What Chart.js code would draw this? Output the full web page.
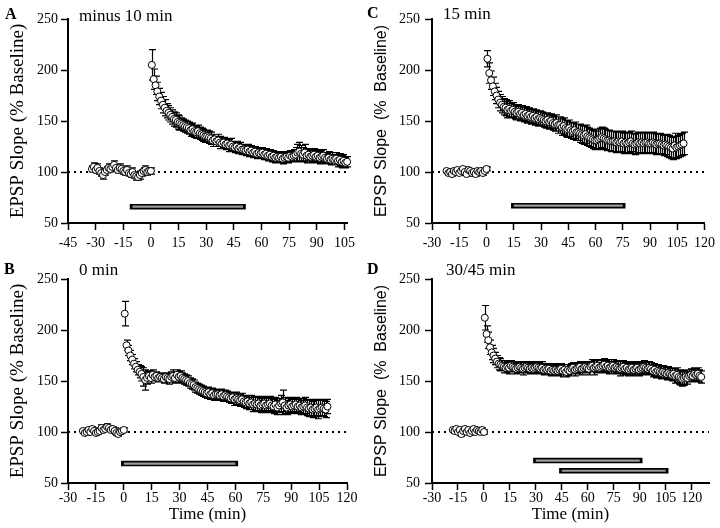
<!DOCTYPE html>
<html>
<head>
<meta charset="utf-8">
<script src="https://cdn.jsdelivr.net/npm/chart.js@4.4.1/dist/chart.umd.min.js"></script>
<style>
  body { margin: 0; background: #fff; }
  #wrap { position: relative; width: 720px; height: 528px; overflow: hidden; }
  canvas { position: absolute; }
  .lbl { position: absolute; font-family: "Liberation Serif", serif; font-size: 17px; line-height: 1; white-space: pre; color: #000; }
  .let { font-weight: bold; font-size: 16px; }
</style>
</head>
<body>
<div id="wrap">
  <canvas id="chartA" width="360" height="264" style="left:0;top:0"></canvas>
  <canvas id="chartC" width="360" height="264" style="left:360px;top:0"></canvas>
  <canvas id="chartB" width="360" height="264" style="left:0;top:264px"></canvas>
  <canvas id="chartD" width="360" height="264" style="left:360px;top:264px"></canvas>

  <div class="lbl let" style="left:5px;top:6px">A</div>
  <div class="lbl" style="left:79px;top:7px">minus 10 min</div>
  <div class="lbl let" style="left:367px;top:5px">C</div>
  <div class="lbl" style="left:443px;top:5px">15 min</div>
  <div class="lbl let" style="left:4px;top:261px">B</div>
  <div class="lbl" style="left:79px;top:261px">0 min</div>
  <div class="lbl let" style="left:367px;top:261px">D</div>
  <div class="lbl" style="left:446px;top:261px">30/45 min</div>
</div>

<script>
// y ticks shared by all panels
var yTicks = [50, 100, 150, 200, 250];

// ---- A: minus 10 min ----
var aTicks = [-45, -30, -15, 0, 15, 30, 45, 60, 75, 90, 105];
var aBaseStart = -32;   // one sample per minute
var aBase = [103,105,102,104,101,99,97,100,102,104, 103,105,107,104,102,104,103,101,100,102,
             99,98,100,97,96,95,97,99,101,102, 100,101,101];
var aBaseErr = [3,4,3,4,3,3,4,3,3,4, 3,3,4,3,3,4,3,3,3,4, 3,3,4,3,4,3,4,3,3,4, 3,3,3];
var aPostStart = 0.5;
var aPost = [205,191,185,179,174,170,166,163,160,158,
             156,154,152,151,149,148,147,146,145,144,
             143,141,142,140,139,140,138,137,136,135,
             135,134,133,131,132,130,131,129,128,129,
             127,128,126,127,125,124,125,123,124,122,
             122,121,122,120,121,119,120,118,119,118,
             119,117,118,116,117,115,116,114,115,114,
             115,113,114,115,114,116,115,116,117,119,
             120,118,117,119,116,117,115,116,117,115,
             116,114,115,116,114,113,114,112,113,112,
             113,111,112,110,111,109,110];
var aPostErr = [15,10,9,9,8,8,8,8,7,7, 7,7,7,7,7,7,6,6,6,6, 6,6,6,6,6,6,6,6,6,6,
                6,6,6,6,5,5,6,6,5,5, 5,5,6,6,5,5,5,5,5,5, 5,5,5,5,5,5,5,5,5,5,
                5,5,5,5,5,5,5,5,5,5, 5,5,5,5,5,5,5,6,7,8, 9,8,7,8,7,6,6,6,6,6,
                6,6,6,6,5,5,6,5,6,5, 6,6,6,6,6,5,5];
var aDrug = [[-10, 50, 66]];

// ---- B: 0 min ----
var bTicks = [-30, -15, 0, 15, 30, 45, 60, 75, 90, 105, 120];
var bBaseStart = -22;
var bBase = [101,99,100,102,100,103,101,99,100,101, 104,102,103,105,104,102,103,101,99,98, 100,101,102];
var bBaseErr = [2,2,3,2,2,2,3,2,2,2, 3,2,2,3,2,2,2,3,2,2, 2,2,2];
var bPostStart = 0.5;
var bPost = [216,185,180,175,171,167,164,161,159,157,
             154,151,153,155,153,156,154,155,153,154,
             153,152,154,153,152,154,155,153,156,154,
             155,153,152,151,150,148,147,146,144,143,
             142,141,140,139,138,139,137,138,136,137,
             137,136,137,135,136,135,134,133,134,132,
             133,132,131,132,130,129,130,128,129,127,
             128,127,128,126,127,128,126,127,128,126,
             125,127,124,126,128,129,126,124,126,127,
             125,126,127,125,126,124,125,126,124,123,
             124,122,123,124,122,123,124,123,122,125];
var bPostErr = [12,5,5,5,5,5,5,5,6,7, 9,10,6,5,5,5,4,4,4,4, 4,4,4,4,5,5,6,5,5,5,
                5,5,5,5,5,5,5,5,5,5, 5,5,5,5,5,5,5,5,5,5, 5,5,5,5,5,5,5,5,5,6,
                6,6,6,6,6,6,6,6,7,7, 7,7,7,7,7,7,7,7,7,7, 7,7,7,7,8,12,8,7,7,7,
                7,7,7,7,7,7,8,8,8,8, 8,8,8,8,9,8,8,8,8,7];
var bDrug = [[0, 60, 69]];

// ---- C: 15 min ----
var cTicks = [-30, -15, 0, 15, 30, 45, 60, 75, 90, 105, 120];
var cBaseStart = -22;
var cBase = [101,99,100,98,101,100,102,99,101,103, 100,98,102,101,99,100,98,101,100,101, 99,101,103];
var cBaseErr = [2,2,2,2,2,2,2,2,2,2, 2,2,2,2,2,2,2,2,2,2, 2,2,2];
var cPostStart = 0.5;
var cPost = [211,197,190,184,179,175,171,168,166,164,
             163,161,162,160,161,159,158,159,157,158,
             156,157,155,156,154,155,153,154,152,153,
             152,151,150,151,149,150,148,147,148,146,
             146,144,145,143,142,143,141,140,141,139,
             139,138,137,136,137,135,134,133,132,131,
             131,132,133,134,133,132,131,131,130,130,
             130,129,130,129,130,128,129,128,129,130,
             128,127,128,129,128,129,128,129,129,128,
             128,129,128,127,128,128,127,126,127,126,
             125,124,123,126,124,125,126,127,128];
var cPostErr = [8,10,9,9,8,8,8,8,8,8, 8,8,8,7,7,7,7,7,7,7, 7,7,7,7,7,7,7,7,7,7,
                7,7,7,7,7,7,7,7,8,8, 8,8,8,8,8,8,8,8,8,8, 8,9,9,9,9,9,9,9,9,9,
                9,10,10,10,10,10,10,10,10,10, 10,10,10,10,10,10,10,10,10,10,
                10,10,10,10,10,10,10,10,10,10, 10,10,10,10,10,10,10,10,10,11,
                11,11,11,12,11,11,11,11,11];
var cDrug = [[15, 75, 67]];

// ---- D: 30/45 min ----
var dTicks = [-30, -15, 0, 15, 30, 45, 60, 75, 90, 105, 120];
var dBaseStart = -18;
var dBase = [102,101,103,100,102,98,101,103,100,102, 99,101,103,100,102,101,100,102,100];
var dBaseErr = [2,2,2,2,2,2,2,2,2,2, 2,2,2,2,2,2,2,2,2];
var dPostStart = 0.5;
var dPost = [212,196,190,183,178,175,172,169,167,166,
             165,164,163,164,163,165,164,163,162,163,
             164,163,162,163,164,163,162,163,162,163,
             164,163,162,163,161,162,161,162,160,161,
             160,161,160,161,162,160,161,159,161,160,
             162,163,161,162,163,164,162,163,164,163,
             162,164,165,163,164,165,163,164,165,166,
             164,165,163,164,165,163,164,163,162,163,
             164,162,163,161,162,163,161,162,163,161,
             162,163,164,163,162,163,162,160,161,159,
             160,159,158,159,158,157,158,157,156,157,
             155,156,154,153,152,153,154,153,155,156,
             155,157,156,157,155,154];
var dPostErr = [12,8,8,7,7,7,6,6,6,6, 5,6,5,5,6,5,5,6,5,5, 5,5,6,5,5,5,5,6,5,5,
                5,5,5,6,5,5,5,5,5,5, 5,6,5,5,5,6,5,5,5,5, 5,5,6,5,5,5,6,5,5,5,
                6,5,6,7,6,6,5,6,6,6, 6,6,6,7,6,6,6,6,7,6, 6,6,6,6,6,6,6,6,6,6,
                6,6,6,6,6,6,6,6,6,6, 6,6,6,6,6,6,6,6,6,6, 7,7,7,7,7,7,7,6,6,6,
                6,6,6,6,6,6];
var dDrug = [[30, 90, 72], [45, 105, 62]];

// turn a run of one-per-minute samples into points
function samples(start, vals) {
  return vals.map(function (v, i) { return { x: start + i, y: v }; });
}

// SEM bars, drawn just before the circles of the same dataset
var errorBars = {
  id: 'errorBars',
  beforeDatasetDraw: function (chart, args) {
    var ds = chart.data.datasets[args.index];
    if (!ds.errors) return;
    var ctx = chart.ctx, x = chart.scales.x, y = chart.scales.y;
    ctx.save();
    ctx.strokeStyle = '#000';
    ctx.lineWidth = 1.2;
    ctx.beginPath();
    ds.data.forEach(function (p, i) {
      var e = ds.errors[i];
      if (!e) return;
      var px = Math.round(x.getPixelForValue(p.x)) + 0.5;
      var hi = y.getPixelForValue(p.y + e), lo = y.getPixelForValue(p.y - e);
      ctx.moveTo(px, hi); ctx.lineTo(px, lo);
      ctx.moveTo(px - 3.5, hi); ctx.lineTo(px + 3.5, hi);
      ctx.moveTo(px - 3.5, lo); ctx.lineTo(px + 3.5, lo);
    });
    ctx.stroke();
    ctx.restore();
  }
};

function panel(id, p) {
  var pts = samples(p.baseStart, p.base).concat(samples(p.postStart, p.post));
  var errs = p.baseErr.concat(p.postErr);

  var datasets = [{
    data: pts,
    errors: errs,
    showLine: false,
    clip: false,
    pointRadius: 3.5,
    pointBackgroundColor: '#fff',
    pointBorderColor: '#000',
    pointBorderWidth: 1
  }];

  // drug application bars: grey core over a black outline
  p.drug.forEach(function (d) {
    var seg = [{ x: d[0], y: d[2] }, { x: d[1], y: d[2] }];
    datasets.push({ data: seg, showLine: true, pointRadius: 0, borderColor: '#9a9a9a', borderWidth: 2.2, borderCapStyle: 'butt' });
    datasets.push({ data: seg, showLine: true, pointRadius: 0, borderColor: '#000', borderWidth: 5.5, borderCapStyle: 'square' });
  });

  // dotted baseline at 100 %
  datasets.push({
    data: [{ x: p.xMin, y: 100 }, { x: p.xMax, y: 100 }],
    showLine: true, pointRadius: 0, borderColor: '#000', borderWidth: 2, borderDash: [2, 4], borderCapStyle: 'butt'
  });

  var tickFont = { family: 'Liberation Serif', size: 14 };
  var grid = { drawOnChartArea: false, drawTicks: true, tickLength: 7, tickWidth: 1.5, tickColor: '#000' };
  var border = { display: true, color: '#000', width: 2 };

  new Chart(document.getElementById(id), {
    type: 'scatter',
    data: { datasets: datasets },
    plugins: [errorBars],
    options: {
      responsive: false,
      animation: false,
      events: [],
      layout: { padding: { left: 0, top: p.padTop, right: p.padRight, bottom: 0 } },
      plugins: { legend: { display: false }, tooltip: { enabled: false } },
      scales: {
        x: {
          type: 'linear',
          min: p.xMin,
          max: p.xMax,
          afterBuildTicks: function (s) { s.ticks = p.xTicks.map(function (v) { return { value: v }; }); },
          afterFit: function (s) { s.height = p.xHeight; },
          grid: grid,
          border: border,
          ticks: { color: '#000', font: tickFont, padding: p.xPad, maxRotation: 0, autoSkip: false },
          title: {
            display: p.xTitle,
            text: 'Time (min)',
            color: '#000',
            font: { family: 'Liberation Serif', size: 17 },
            padding: { top: 0, bottom: 3 }
          }
        },
        y: {
          min: 50,
          max: 250,
          afterBuildTicks: function (s) { s.ticks = yTicks.map(function (v) { return { value: v }; }); },
          afterFit: function (s) { s.width = p.yWidth; },
          grid: grid,
          border: border,
          ticks: { color: '#000', font: tickFont, padding: p.yPad },
          title: {
            display: true,
            text: p.yTitle,
            color: '#000',
            font: p.yFont,
            padding: { top: p.yTitlePad, bottom: 0 }
          }
        }
      }
    }
  });
}

var serifTitle = { family: 'Liberation Serif', size: 19 };
var sansTitle = { family: 'Liberation Sans', size: 16 };

panel('chartA', {
  baseStart: aBaseStart, base: aBase, baseErr: aBaseErr,
  postStart: aPostStart, post: aPost, postErr: aPostErr, drug: aDrug,
  xTicks: aTicks, xMin: -45, xMax: 106.5, xTitle: false,
  padTop: 19, padRight: 11, xHeight: 41, xPad: 5, yWidth: 68, yPad: 3,
  yTitle: 'EPSP Slope (% Baseline)', yFont: serifTitle, yTitlePad: 7
});
panel('chartC', {
  baseStart: cBaseStart, base: cBase, baseErr: cBaseErr,
  postStart: cPostStart, post: cPost, postErr: cPostErr, drug: cDrug,
  xTicks: cTicks, xMin: -30, xMax: 120, xTitle: false,
  padTop: 19, padRight: 11, xHeight: 41, xPad: 5, yWidth: 72, yPad: 5,
  yTitle: 'EPSP Slope  (%  Baseline)', yFont: sansTitle, yTitlePad: 12
});
panel('chartB', {
  baseStart: bBaseStart, base: bBase, baseErr: bBaseErr,
  postStart: bPostStart, post: bPost, postErr: bPostErr, drug: bDrug,
  xTicks: bTicks, xMin: -30, xMax: 120, xTitle: true,
  padTop: 15, padRight: 13, xHeight: 45, xPad: 0, yWidth: 68, yPad: 3,
  yTitle: 'EPSP Slope (% Baseline)', yFont: serifTitle, yTitlePad: 7
});
panel('chartD', {
  baseStart: dBaseStart, base: dBase, baseErr: dBaseErr,
  postStart: dPostStart, post: dPost, postErr: dPostErr, drug: dDrug,
  xTicks: dTicks, xMin: -30, xMax: 130, xTitle: true,
  padTop: 15, padRight: 11, xHeight: 45, xPad: 0, yWidth: 72, yPad: 5,
  yTitle: 'EPSP Slope  (%  Baseline)', yFont: sansTitle, yTitlePad: 12
});
</script>
</body>
</html>
